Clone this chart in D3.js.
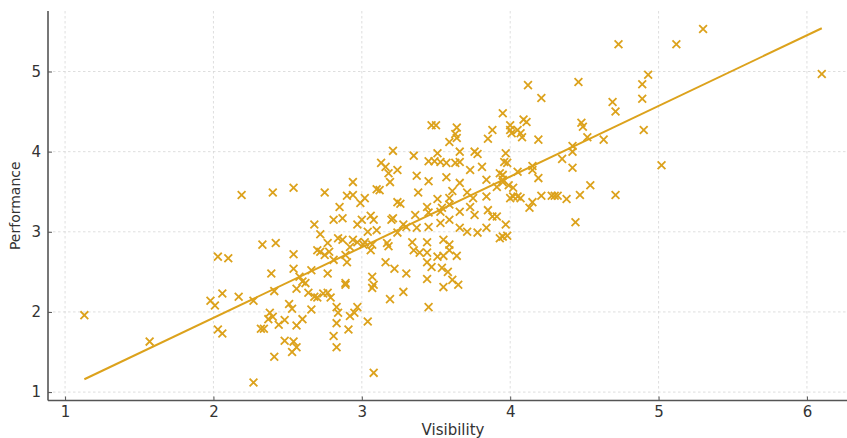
<!DOCTYPE html>
<html>
<head>
<meta charset="utf-8">
<script src="https://cdn.jsdelivr.net/npm/d3@7"></script>
<style>
  html, body { margin: 0; padding: 0; background: #fff; }
  svg { display: block; }
  text { font-family: "DejaVu Sans", sans-serif; fill: #333; }
</style>
</head>
<body>
<svg id="chart" width="847" height="438"></svg>
<script>
// ---- data ----
const visibility = [
  1.13,1.57,1.98,2.01,2.06,2.17,2.27,2.03,2.06,2.27,2.03,2.10,2.19,2.40,2.54,2.33,2.42,2.32,2.34,2.37,
  2.38,2.40,2.44,2.48,2.41,2.56,2.62,2.64,2.51,2.53,2.60,2.66,2.56,2.48,2.54,2.56,2.53,2.41,2.74,2.79,
  2.70,2.89,2.83,2.83,2.91,2.81,2.83,2.92,2.95,2.97,3.04,3.08,2.39,2.54,2.58,2.60,2.66,2.77,2.89,2.54,
  2.70,2.72,2.75,2.78,2.81,2.89,2.90,2.92,2.94,2.97,3.01,2.68,2.72,2.84,2.87,2.77,2.85,2.81,2.87,2.75,
  2.94,2.90,2.94,2.99,2.97,3.00,3.04,3.08,3.10,3.02,3.07,3.07,3.08,3.07,3.10,2.68,2.77,2.84,
  3.95,3.47,3.50,3.64,3.63,3.64,3.59,3.88,3.85,4.00,4.01,4.05,3.21,3.35,3.51,3.45,3.49,3.53,3.57,3.63,
  3.66,3.76,3.78,3.66,3.97,3.98,3.13,3.16,3.24,3.18,3.19,3.12,3.02,3.37,3.45,3.57,3.66,3.73,3.81,3.84,
  3.93,3.95,3.99,4.05,3.38,3.24,3.26,3.61,3.59,3.51,3.71,3.75,3.84,3.91,4.02,3.44,3.54,3.59,3.66,3.73,
  3.36,3.76,3.85,3.91,3.06,3.21,3.20,3.45,3.53,3.88,3.97,3.06,3.17,3.18,3.24,3.28,3.30,3.37,3.45,3.53,
  3.59,3.66,3.71,3.78,3.84,3.93,3.34,3.44,3.55,3.59,3.35,3.39,3.44,3.51,3.55,3.64,3.59,3.16,3.22,3.30,
  3.44,3.47,3.54,3.58,3.44,3.55,3.61,3.65,3.19,3.28,3.45,
  4.12,4.46,4.93,4.89,4.89,4.69,4.71,4.21,4.09,4.11,4.00,4.07,4.08,4.19,4.48,4.49,4.52,4.90,4.63,4.42,
  4.42,4.35,4.42,4.15,4.15,4.19,3.95,3.95,4.02,4.00,4.05,4.07,4.21,4.28,4.30,4.32,4.38,4.47,4.54,4.71,
  5.02,4.15,4.13,4.44,3.95,3.98,3.96,4.73,5.12,5.30,6.10
];
const performance = [
  1.96,1.63,2.14,2.08,2.23,2.19,2.14,1.78,1.73,1.12,2.69,2.67,3.46,3.49,3.55,2.84,2.86,1.79,1.79,1.91,
  1.99,1.94,1.84,1.90,2.26,2.29,2.36,2.24,2.10,2.04,1.91,2.03,1.83,1.64,1.63,1.56,1.50,1.44,2.23,2.18,
  2.18,2.34,2.06,1.86,1.78,1.70,1.56,1.95,1.99,2.06,1.88,1.24,2.48,2.54,2.44,2.38,2.52,2.48,2.36,2.72,
  2.77,2.75,2.71,2.75,2.65,2.71,2.62,2.81,2.90,2.87,2.84,3.09,2.97,2.92,2.90,2.86,3.31,3.15,3.17,3.49,
  3.62,3.45,3.46,3.36,3.09,3.15,3.00,3.15,3.02,2.87,2.84,2.44,2.34,2.30,3.53,2.19,2.24,1.99,
  4.48,4.33,4.33,4.30,4.22,4.17,4.12,4.27,4.16,4.33,4.23,4.27,4.01,3.95,3.98,3.88,3.88,3.87,3.86,3.86,
  3.87,4.00,3.97,4.00,3.98,3.86,3.86,3.81,3.77,3.73,3.62,3.52,3.42,3.70,3.63,3.68,3.61,3.77,3.81,3.65,
  3.73,3.65,3.58,3.75,3.49,3.37,3.35,3.51,3.42,3.41,3.49,3.42,3.44,3.56,3.44,3.31,3.30,3.34,3.25,3.31,
  3.21,3.21,3.27,3.19,3.20,3.17,3.15,3.24,3.25,3.19,3.09,2.77,2.86,2.82,2.99,3.09,3.06,3.05,3.06,3.11,
  3.15,3.05,3.00,2.99,3.05,2.92,2.87,2.87,2.90,2.84,2.77,2.74,2.74,2.69,2.70,2.70,2.77,2.62,2.54,2.48,
  2.62,2.56,2.55,2.50,2.41,2.31,2.40,2.34,2.16,2.25,2.06,
  4.83,4.87,4.96,4.84,4.66,4.62,4.50,4.67,4.40,4.37,4.27,4.23,4.18,4.15,4.36,4.31,4.18,4.27,4.15,4.07,
  4.00,3.91,3.80,3.82,3.77,3.67,3.71,3.62,3.55,3.42,3.44,3.42,3.45,3.45,3.45,3.45,3.41,3.46,3.58,3.46,
  3.83,3.37,3.30,3.12,2.94,2.95,3.87,5.34,5.34,5.53,4.97
];
// fitted trend line end points
const fitX = [1.13, 6.10];
const fitY = [1.16, 5.54];
const xTicks = [1, 2, 3, 4, 5, 6];
const yTicks = [1, 2, 3, 4, 5];
const xLabel = "Visibility";
const yLabel = "Performance";

(function () {
  const padL = 48, padR = 847, padT = 11, padB = 400.5;
  const color = "#dca21c";

  const svg = d3.select("#chart");
  const x = d3.scaleLinear().domain([0.885, 6.27]).range([padL, padR]);
  const y = d3.scaleLinear().domain([0.895, 5.755]).range([padB, padT]);

  // grid
  const grid = svg.append("g");
  grid.selectAll("line.gx").data(xTicks).join("line").attr("class", "gx")
    .attr("x1", d => x(d)).attr("x2", d => x(d))
    .attr("y1", padT).attr("y2", padB)
    .attr("stroke", "#d6d6d6").attr("stroke-width", 0.8).attr("stroke-dasharray", "2.5,2.5");
  grid.selectAll("line.gy").data(yTicks).join("line").attr("class", "gy")
    .attr("x1", padL).attr("x2", padR)
    .attr("y1", d => y(d)).attr("y2", d => y(d))
    .attr("stroke", "#d6d6d6").attr("stroke-width", 0.8).attr("stroke-dasharray", "2.5,2.5");

  // axes (inward ticks)
  const xAxis = d3.axisBottom(x).tickValues(xTicks).tickFormat(d3.format("d")).tickSizeInner(-4).tickSizeOuter(0).tickPadding(6);
  const yAxis = d3.axisLeft(y).tickValues(yTicks).tickFormat(d3.format("d")).tickSizeInner(-4).tickSizeOuter(0).tickPadding(7);

  const gx = svg.append("g").attr("transform", `translate(0,${padB})`).call(xAxis);
  const gy = svg.append("g").attr("transform", `translate(${padL},0)`).call(yAxis);
  [gx, gy].forEach(g => {
    g.select(".domain").attr("stroke", "#555").attr("stroke-width", 1.6);
    g.selectAll(".tick line").attr("stroke", "#555").attr("stroke-width", 1);
    g.selectAll(".tick text").style("font-family", "DejaVu Sans, sans-serif").style("font-size", "15px").attr("fill", "#333");
  });
  gy.select(".domain").attr("d", `M0,${padT}V${padB}`);
  gx.select(".domain").attr("d", `M${padL},0H${padR}`);

  // trend line
  svg.append("line")
    .attr("x1", x(fitX[0])).attr("y1", y(fitY[0]))
    .attr("x2", x(fitX[1])).attr("y2", y(fitY[1]))
    .attr("stroke", color).attr("stroke-width", 2);

  // points as x markers
  const r = 3.9;
  svg.append("g").selectAll("path").data(visibility.map((v, i) => [v, performance[i]])).join("path")
    .attr("d", d => {
      const cx = x(d[0]), cy = y(d[1]);
      return `M${cx - r},${cy - r}L${cx + r},${cy + r}M${cx - r},${cy + r}L${cx + r},${cy - r}`;
    })
    .attr("stroke", color).attr("stroke-width", 1.8).attr("fill", "none");

  // labels
  svg.append("text").attr("x", 453).attr("y", 435)
    .attr("text-anchor", "middle").style("font-size", "15px").text(xLabel);
  svg.append("text").attr("transform", `translate(20,${(padT + padB) / 2}) rotate(-90)`)
    .attr("text-anchor", "middle").style("font-size", "14px").text(yLabel);
})();
</script>
</body>
</html>
